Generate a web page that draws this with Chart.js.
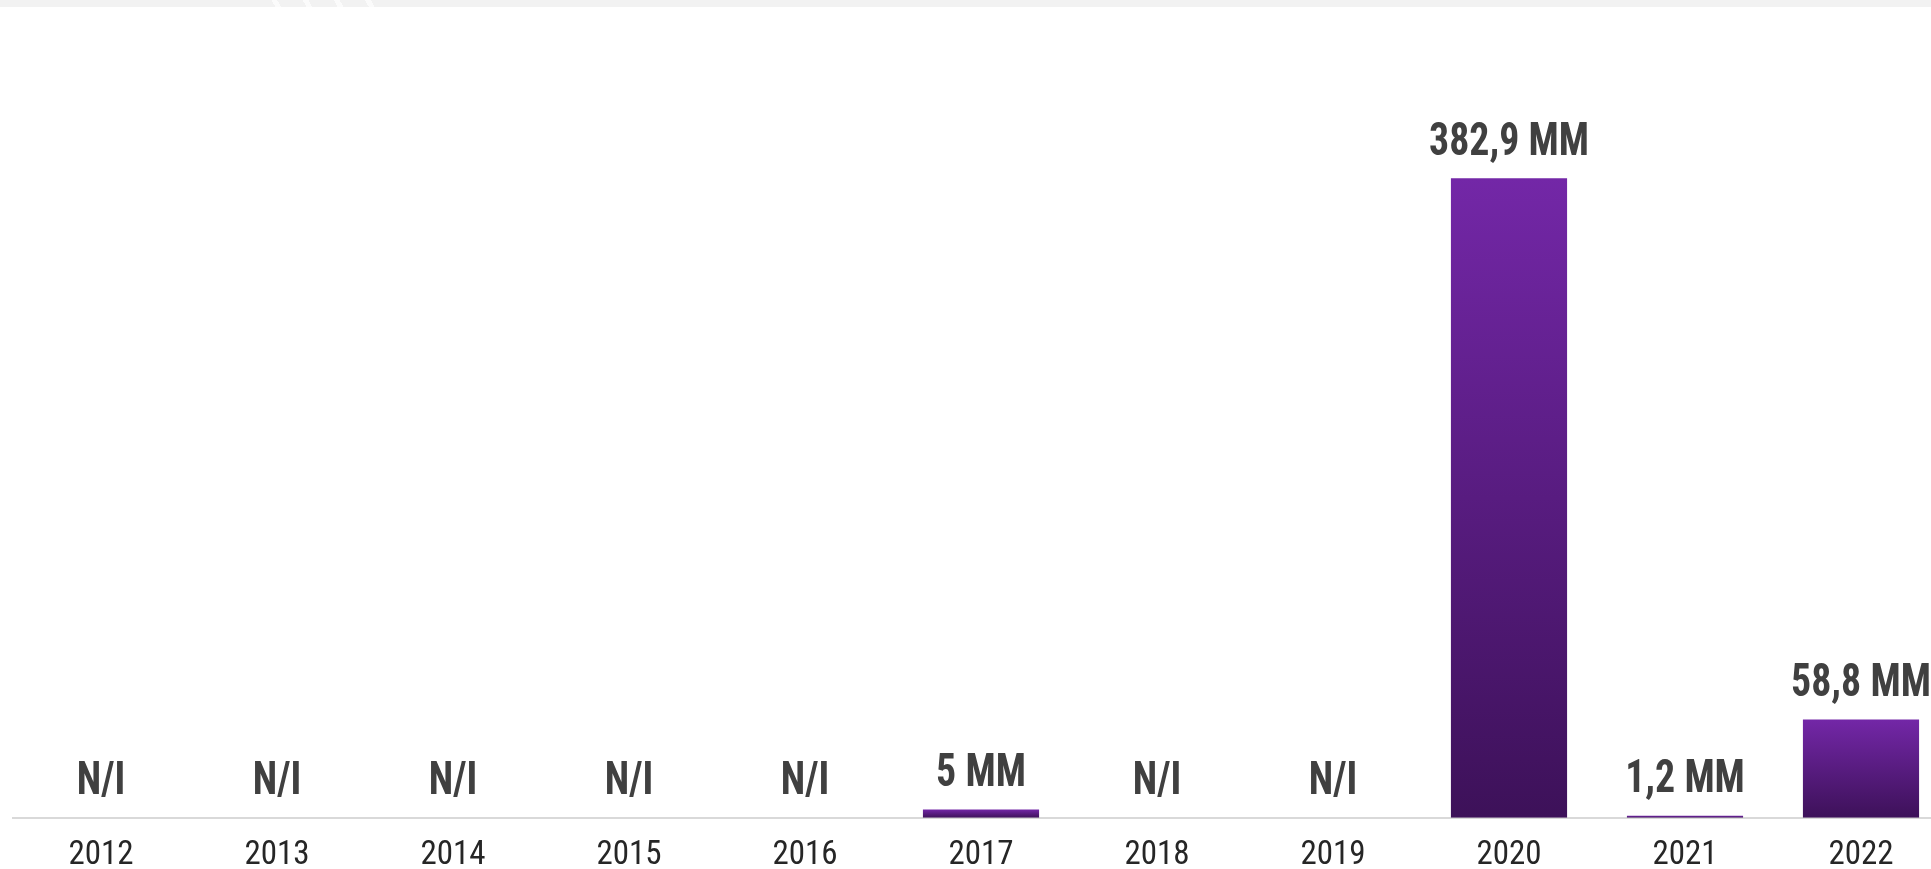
<!DOCTYPE html>
<html>
<head>
<meta charset="utf-8">
<script src="https://cdn.jsdelivr.net/npm/chart.js@4.4.1/dist/chart.umd.min.js"></script>
<style>
  html, body { margin: 0; padding: 0; background: #ffffff; overflow: hidden; width: 1931px; height: 869px; }
  #band { position: absolute; left: 0; top: 0; width: 1931px; height: 7px; background: #f2f2f2; z-index: 2; }
  #stripes { position: absolute; left: 250px; top: 0; width: 130px; height: 7px; z-index: 3;
    background: repeating-linear-gradient(60deg, rgba(255,255,255,0) 0px, rgba(255,255,255,0) 22px, rgba(255,255,255,0.7) 22px, rgba(255,255,255,0.7) 27px); }
  #wrap { position: absolute; left: 0; top: 0; width: 1949px; height: 900px; }
</style>
</head>
<body>
<div id="band"></div>
<div id="stripes"></div>
<div id="wrap"><canvas id="c" width="1949" height="900"></canvas></div>
<script>
const categories = ["2012", "2013", "2014", "2015", "2016", "2017", "2018", "2019", "2020", "2021", "2022"];
// values in millions (MM); null = N/I (no information)
const values = [null, null, null, null, null, 5, null, null, 382.9, 1.2, 58.8];
const unitSuffix = " MM";
const missingLabel = "N/I";

const labelTexts = values.map(v => v === null ? missingLabel : String(v).replace('.', ',') + unitSuffix);

// --- find a condensed face if the installed fonts support a width axis ---
const tctx = document.createElement('canvas').getContext('2d');
function mw(font, s) { tctx.font = font; return tctx.measureText(s).width; }
let famQ = '"Liberation Sans", Arial, sans-serif';
let stretch = '';
(function pick() {
  const sample = '382,9 MM 2012 N/I';
  const cands = ['Roboto', 'Open Sans', 'Noto Sans', 'Inter', 'Lato'];
  for (const f of cands) {
    const base = mw(`bold 100px "${f}"`, sample);
    for (const st of ['extra-condensed', 'condensed']) {
      const c = mw(`${st} bold 100px "${f}"`, sample);
      if (c < base * 0.9) { famQ = `"${f}", sans-serif`; stretch = st; return; }
    }
  }
  const dj = mw('bold 100px "DejaVu Sans Condensed"', sample);
  const djb = mw('bold 100px "DejaVu Sans"', sample);
  if (dj < djb * 0.95) { famQ = '"DejaVu Sans Condensed", sans-serif'; stretch = ''; }
})();

const labelFont = `${stretch ? stretch + ' ' : ''}bold 46px ${famQ}`;
// horizontal compression so the label widths match the narrow lettering of the original
const labelScaleX = Math.min(1, 160 / mw(labelFont, '382,9 MM'));
const tickFontPx = 37;
const tickScaleTarget = 66 / mw(`${stretch ? stretch + ' ' : ''}${tickFontPx}px ${famQ}`, '2012');
const tickSize = tickScaleTarget < 1 ? Math.round(tickFontPx * Math.max(tickScaleTarget, 0.82)) : tickFontPx;

const valueLabelPlugin = {
  id: 'valueLabels',
  afterDatasetsDraw(chart) {
    const ctx = chart.ctx;
    const meta = chart.getDatasetMeta(0);
    const yScale = chart.scales.y;
    ctx.save();
    ctx.font = labelFont;
    ctx.fillStyle = '#404040';
    ctx.textAlign = 'center';
    ctx.textBaseline = 'alphabetic';
    meta.data.forEach((bar, i) => {
      const v = values[i];
      const top = yScale.getPixelForValue(v === null ? 0 : v);
      ctx.save();
      ctx.translate(bar.x, top - 23.5);
      ctx.scale(labelScaleX, 1);
      ctx.fillText(labelTexts[i], 0, 0);
      ctx.restore();
    });
    ctx.restore();
  }
};

const ctx = document.getElementById('c').getContext('2d');
new Chart(ctx, {
  type: 'bar',
  data: {
    labels: categories,
    datasets: [{
      data: values,
      backgroundColor(context) {
        const chart = context.chart;
        const area = chart.chartArea;
        if (!area || context.raw === null || context.raw === undefined) return '#6a24a0';
        const y = chart.scales.y;
        const top = y.getPixelForValue(context.raw);
        const base = y.getPixelForValue(0);
        if (!isFinite(top) || !isFinite(base) || Math.abs(base - top) < 0.5) return '#7327a7';
        const g = chart.ctx.createLinearGradient(0, top, 0, base);
        g.addColorStop(0, '#7327a7');
        g.addColorStop(1, '#3d1159');
        return g;
      },
      borderWidth: 0,
      categoryPercentage: 0.8,
      barPercentage: 0.825
    }]
  },
  options: {
    responsive: false,
    animation: false,
    devicePixelRatio: 1,
    layout: { padding: { left: 13, right: 0, top: 16, bottom: 7 } },
    plugins: { legend: { display: false }, tooltip: { enabled: false }, title: { display: false } },
    scales: {
      x: {
        grid: { display: false, drawTicks: false },
        border: { display: true, color: '#d9d9d9', width: 2 },
        ticks: {
          color: '#262626',
          padding: 16,
          font: { family: famQ.replace(/"/g, ''), size: tickSize, lineHeight: 36 * 1.2 / tickSize, weight: stretch || undefined },
          maxRotation: 0,
          autoSkip: false
        }
      },
      y: {
        display: false,
        min: 0,
        max: 480
      }
    }
  },
  plugins: [valueLabelPlugin]
});
</script>
</body>
</html>
